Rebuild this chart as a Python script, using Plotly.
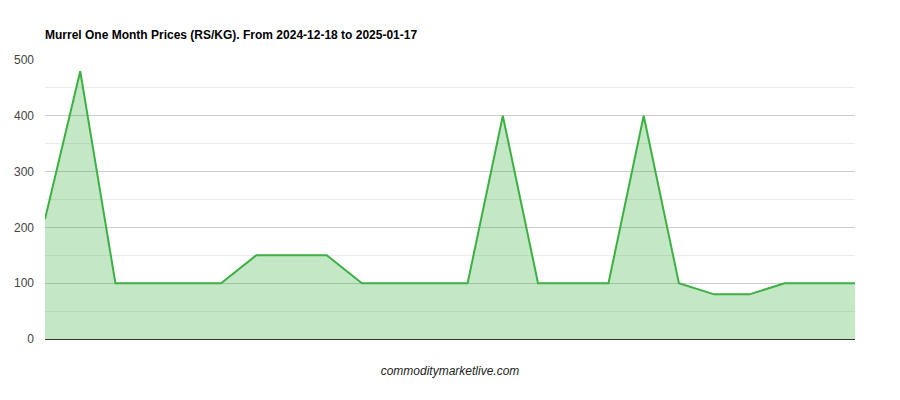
import plotly.graph_objects as go

points = list(range(24))
prices = [215, 480, 100, 100, 100, 100, 150, 150, 150, 100, 100, 100, 100,
          400, 100, 100, 100, 400, 100, 80, 80, 100, 100, 100]
y_ticks = [0, 100, 200, 300, 400, 500]

fig = go.Figure()
fig.add_trace(go.Scatter(
    x=points, y=prices, mode="lines",
    line=dict(color="#3cb043", width=2),
    fill="tozeroy", fillcolor="rgba(60,176,67,0.3)",
    hoverinfo="y",
))
fig.update_layout(
    width=900, height=400,
    margin=dict(l=45, r=45, t=60, b=61),
    paper_bgcolor="white", plot_bgcolor="white",
    showlegend=False,
    title=dict(text="<b>Murrel One Month Prices (RS/KG). From 2024-12-18 to 2025-01-17</b>",
               x=45/900, xanchor="left", y=1-35/400, yanchor="middle",
               font=dict(family="Arial, Liberation Sans", size=12, color="#000")),
    font=dict(family="Arial, Liberation Sans", size=12, color="#444"),
)
fig.update_xaxes(
    range=[0, 23], showticklabels=False, showgrid=False, zeroline=False,
    showline=False, ticks="", automargin=False,
    title=dict(text="<i>commoditymarketlive.com</i>", standoff=27,
               font=dict(family="Arial, Liberation Sans", size=12, color="#222")),
)
fig.update_yaxes(
    range=[0, 500], tickvals=y_ticks, showgrid=True, gridcolor="#cccccc",
    gridwidth=1, zeroline=True, zerolinecolor="#333333", zerolinewidth=1,
    minor=dict(dtick=50, showgrid=True, gridcolor="#ebebeb", gridwidth=1),
    ticks="", ticklabelstandoff=10, automargin=False,
)
fig.write_html("out.html", config={"displayModeBar": False},
               post_script="document.body.style.margin='0';")
